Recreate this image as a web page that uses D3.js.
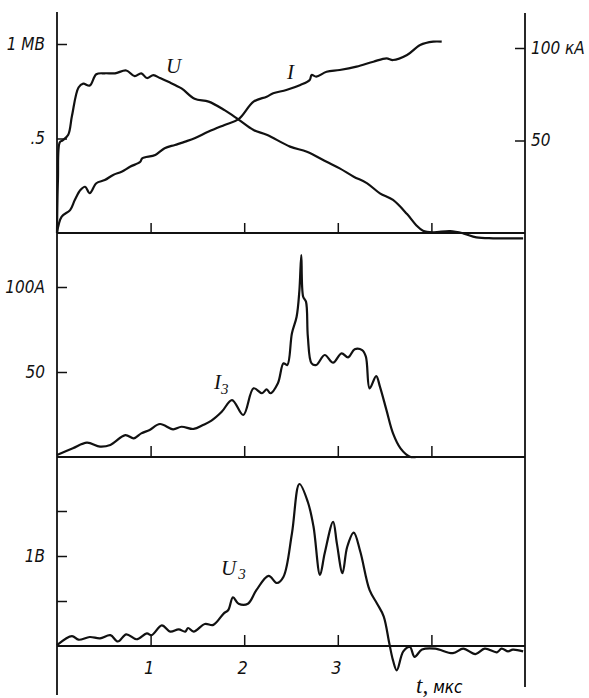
<!DOCTYPE html>
<html>
<head>
<meta charset="utf-8">
<script src="https://cdn.jsdelivr.net/npm/d3@7"></script>
<style>
  body { margin: 0; background: #fff; }
  svg { display: block; }
  .axis text { font-family: "Liberation Sans Narrow", "DejaVu Sans Condensed", sans-serif; font-style: italic; font-size: 17px; fill: #111; }
  .axis line { stroke: #111; stroke-width: 1.5; }
  .axis path.domain { display: none; }
  .curve { fill: none; stroke: #111; stroke-width: 2.2; stroke-linejoin: round; }
  .frame { stroke: #111; stroke-width: 1.8; }
  .lbl { font-family: "Liberation Serif", serif; font-style: italic; font-size: 21px; fill: #111; }
</style>
</head>
<body>
<div id="chart"></div>
<script>
// time, mks / value pairs
const curveU = [[0,0],[0.01,0.28],[0.03,0.48],[0.06,0.49],[0.12,0.52],[0.16,0.62],[0.23,0.77],[0.28,0.79],[0.35,0.78],
  [0.42,0.84],[0.51,0.845],[0.62,0.845],[0.74,0.86],[0.83,0.83],[0.9,0.845],[0.96,0.82],[1.03,0.835],[1.1,0.82],
  [1.19,0.8],[1.33,0.765],[1.47,0.71],[1.62,0.695],[1.79,0.65],[1.94,0.6],[2.1,0.545],[2.24,0.52],[2.49,0.457],
  [2.67,0.43],[2.88,0.377],[3.02,0.342],[3.17,0.298],[3.31,0.264],[3.45,0.21],[3.59,0.175],[3.74,0.1],[3.84,0.04],
  [3.91,0.012],[4.02,0.004],[4.2,0.01],[4.34,-0.002],[4.48,-0.023],[4.66,-0.028],[4.98,-0.028]]

const curveI = [[0,0],[0.05,8.8],[0.14,12.4],[0.19,17.8],[0.25,23.2],[0.3,25],[0.35,21.5],[0.42,26.9],[0.51,28.6],
  [0.6,31.4],[0.69,33.1],[0.78,35.8],[0.89,38.5],[0.91,40.4],[1.05,42.2],[1.15,45.8],[1.26,47.6],[1.37,49.4],
  [1.47,51.2],[1.62,54.8],[1.79,58.4],[1.94,61.5],[2.1,71],[2.24,73.7],[2.31,75.5],[2.45,77.3],[2.6,80],[2.7,82.7],
  [2.72,85.4],[2.77,84.5],[2.88,87.2],[3.02,88.1],[3.2,89.9],[3.38,92.6],[3.52,94.4],[3.59,93.5],[3.74,96.2],
  [3.88,101.6],[4.02,103.4],[4.11,103.4]]

const curveI3 = [[0,1.2],[0.17,5.1],[0.32,8.4],[0.46,6.1],[0.57,7.1],[0.73,12.9],[0.82,11],[0.9,13.9],[0.99,15.9],
  [1.1,19.4],[1.24,16.3],[1.33,17.8],[1.46,16.5],[1.56,18.8],[1.65,21.4],[1.76,26.6],[1.87,33.5],[1.99,24.7],
  [2.1,40.4],[2.19,37.5],[2.24,39.8],[2.28,37.5],[2.36,43.4],[2.42,55.1],[2.46,54.1],[2.51,72.8],[2.56,82.5],
  [2.59,98.2],[2.61,118.8],[2.63,94.3],[2.66,91.4],[2.68,70.8],[2.72,55.1],[2.77,54.1],[2.86,60],[2.95,55.5],
  [3.04,61],[3.11,58.6],[3.18,63.4],[3.26,62.9],[3.3,59],[3.34,40.4],[3.41,47.6],[3.45,41.4],[3.52,27.6],
  [3.59,13.9],[3.67,5.1],[3.77,0.2],[3.84,0]]

const curveU3 = [[0,0.01],[0.16,0.11],[0.23,0.07],[0.35,0.1],[0.46,0.085],[0.57,0.12],[0.65,0.05],[0.74,0.13],
  [0.85,0.075],[0.96,0.14],[1.01,0.12],[1.12,0.23],[1.21,0.16],[1.3,0.185],[1.37,0.16],[1.4,0.2],[1.46,0.16],
  [1.58,0.245],[1.67,0.235],[1.78,0.36],[1.83,0.4],[1.88,0.54],[1.94,0.47],[2.04,0.47],[2.13,0.62],[2.26,0.78],
  [2.35,0.7],[2.42,0.77],[2.51,1.25],[2.59,1.8],[2.68,1.6],[2.74,1.33],[2.81,0.79],[2.86,1.03],[2.95,1.38],
  [2.99,1.14],[3.05,0.81],[3.1,1.1],[3.17,1.26],[3.24,1.05],[3.34,0.62],[3.42,0.47],[3.49,0.33],[3.55,0.03],
  [3.59,-0.16],[3.63,-0.27],[3.7,-0.06],[3.77,-0.01],[3.82,-0.12],[3.9,-0.04],[4.04,-0.03],[4.23,-0.08],
  [4.34,-0.03],[4.47,-0.09],[4.57,-0.03],[4.7,-0.07],[4.75,-0.03],[4.82,-0.06],[4.87,-0.04],[4.98,-0.06]]

const timeTicks = [1, 2, 3, 4]
const timeLabels = ['1', '2', '3', '']
const uTicks = [0.5, 1], uLabels = ['.5', '1 МВ']
const iTicks = [50, 100], iLabels = ['50', '100 кА']
const i3Ticks = [50, 100], i3Labels = ['50', '100А']
const u3Ticks = [0.5, 1, 1.5], u3Labels = ['', '1В', '']

const svg = d3.select('#chart').append('svg')
  .attr('width', 589)
  .attr('height', 698)

const x = d3.scaleLinear().domain([0, 5]).range([57, 525])
const yU = d3.scaleLinear().domain([0, 1]).range([233, 44])
const yI = d3.scaleLinear().domain([0, 100]).range([233, 48])
const yI3 = d3.scaleLinear().domain([0, 100]).range([457, 287])
const yU3 = d3.scaleLinear().domain([0, 1]).range([646, 556])

const fmt = (ticks, labels) => (d, i) => labels[ticks.indexOf(d)]

// frame lines
svg.append('line').attr('class', 'frame').attr('x1', x(0)).attr('x2', x(0)).attr('y1', 12).attr('y2', 695)
svg.append('line').attr('class', 'frame').attr('x1', x(5)).attr('x2', x(5)).attr('y1', 13).attr('y2', 687)
;[yU(0), yI3(0), yU3(0)].forEach(y => {
  svg.append('line').attr('class', 'frame').attr('x1', x(0)).attr('x2', x(5)).attr('y1', y).attr('y2', y)
})

// time ticks in each panel, labels only at the bottom
svg.append('g').attr('class', 'axis').attr('transform', `translate(0,${yU(0)})`)
  .call(d3.axisBottom(x).tickValues(timeTicks).tickSizeInner(-10).tickSizeOuter(0).tickFormat(''))
svg.append('g').attr('class', 'axis').attr('transform', `translate(0,${yI3(0)})`)
  .call(d3.axisBottom(x).tickValues(timeTicks).tickSizeInner(-11).tickSizeOuter(0).tickFormat(''))
const xb = svg.append('g').attr('class', 'axis').attr('transform', `translate(0,${yU3(0)})`)
  .call(d3.axisBottom(x).tickValues(timeTicks).tickSizeInner(-11).tickSizeOuter(0).tickPadding(15)
    .tickFormat(fmt(timeTicks, timeLabels)))
xb.selectAll('text').attr('dx', -2).style('font-size', '18px')

// value axes
svg.append('g').attr('class', 'axis').attr('transform', `translate(${x(0)},0)`)
  .call(d3.axisLeft(yU).tickValues(uTicks).tickSizeInner(-10).tickSizeOuter(0).tickPadding(12).tickFormat(fmt(uTicks, uLabels)))
svg.append('g').attr('class', 'axis').attr('transform', `translate(${x(5)},0)`)
  .call(d3.axisRight(yI).tickValues(iTicks).tickSizeInner(-10).tickSizeOuter(0).tickPadding(6).tickFormat(fmt(iTicks, iLabels)))
svg.append('g').attr('class', 'axis').attr('transform', `translate(${x(0)},0)`)
  .call(d3.axisLeft(yI3).tickValues(i3Ticks).tickSizeInner(-10).tickSizeOuter(0).tickPadding(12).tickFormat(fmt(i3Ticks, i3Labels)))
svg.append('g').attr('class', 'axis').attr('transform', `translate(${x(0)},0)`)
  .call(d3.axisLeft(yU3).tickValues(u3Ticks).tickSizeInner(-10).tickSizeOuter(0).tickPadding(12).tickFormat(fmt(u3Ticks, u3Labels)))

// curves
const line = ys => d3.line().x(d => x(d[0])).y(d => ys(d[1])).curve(d3.curveCatmullRom.alpha(0.5))
svg.append('path').attr('class', 'curve').attr('d', line(yU)(curveU))
svg.append('path').attr('class', 'curve').attr('d', line(yI)(curveI))
svg.append('path').attr('class', 'curve').attr('d', line(yI3)(curveI3))
svg.append('path').attr('class', 'curve').attr('d', line(yU3)(curveU3))

// curve names
svg.append('text').attr('class', 'lbl').attr('x', 166).attr('y', 73).text('U')
svg.append('text').attr('class', 'lbl').attr('x', 287).attr('y', 79).text('I')
const i3 = svg.append('text').attr('class', 'lbl').attr('x', 214).attr('y', 389)
i3.append('tspan').text('I')
i3.append('tspan').attr('dy', 5).style('font-size', '15px').text('3')
const u3 = svg.append('text').attr('class', 'lbl').attr('x', 221).attr('y', 575)
u3.append('tspan').text('U')
u3.append('tspan').attr('dy', 4).attr('dx', 2).style('font-size', '15px').text('3')

// time unit
const tl = svg.append('text').attr('x', 416).attr('y', 693)
tl.append('tspan').attr('class', 'lbl').style('font-size', '23px').text('t,')
tl.append('tspan').attr('dx', 5)
  .style('font-family', '"Liberation Sans Narrow", "DejaVu Sans Condensed", sans-serif')
  .style('font-style', 'italic').style('font-size', '17px').text('мкс')
</script>
</body>
</html>
